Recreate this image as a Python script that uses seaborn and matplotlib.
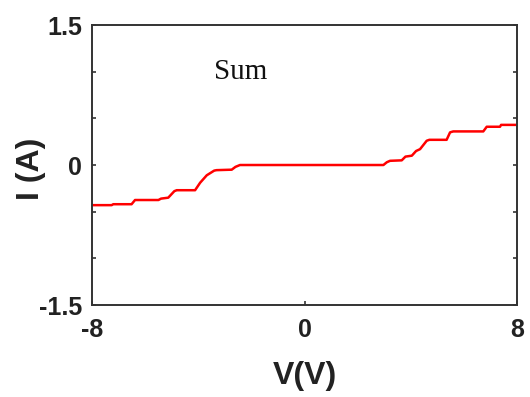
import matplotlib
matplotlib.use("Agg")
import matplotlib.pyplot as plt
import seaborn as sns
import pandas as pd
import numpy as np

V = [-8, -7.26, -7.2, -6.51, -6.38, -5.5, -5.4, -5.13, -4.9, -4.81, -4.12, -3.93, -3.68, -3.4,
     -3.31, -2.74, -2.6, -2.43, 2.97, 3.1, 3.22, 3.66, 3.8, 4.04, 4.2, 4.35, 4.6, 4.7, 5.35,
     5.48, 5.6, 6.73, 6.86, 7.36, 7.4, 8]
I = [-0.43, -0.43, -0.42, -0.42, -0.375, -0.375, -0.36, -0.35, -0.28, -0.27, -0.27, -0.19, -0.11,
     -0.06, -0.055, -0.05, -0.02, 0.0, 0.0, 0.03, 0.045, 0.05, 0.09, 0.1, 0.15, 0.17, 0.26, 0.27,
     0.27, 0.35, 0.36, 0.36, 0.41, 0.41, 0.43, 0.43]
x_ticks = [-8, 0, 8]
x_tick_labels = ["-8", "0", "8"]
y_ticks = [-1.5, 0, 1.5]
y_tick_labels = ["-1.5", "0", "1.5"]

sns.set_style("ticks")
plt.rcParams['font.family'] = ['Liberation Sans', 'DejaVu Sans']

df = pd.DataFrame({"V": V, "I": I})
fig = plt.figure(figsize=(5.3, 3.97), dpi=100)
ax = fig.add_axes([0.1736, 0.2317, 0.9755 - 0.1736, 0.937 - 0.2317])
sns.lineplot(data=df, x="V", y="I", color="#ff0000", linewidth=1.8, ax=ax, sort=False)

ax.set_xlim(-8, 8)
ax.set_ylim(-1.5, 1.5)
ax.set_xticks(x_ticks)
ax.set_xticklabels(x_tick_labels)
ax.set_yticks(y_ticks)
ax.set_yticklabels(y_tick_labels)
ax.set_yticks([-1.0, -0.5, 0.5, 1.0], minor=True)

for s in ax.spines.values():
    s.set_visible(True)
    s.set_color("#333333")
    s.set_linewidth(1.4)

ax.tick_params(axis="both", which="both", direction="in", length=3, width=1.2,
               color="#333333", right=True, top=False)
ax.tick_params(axis="y", which="major", labelsize=18, pad=7, labelcolor="#222222")
ax.tick_params(axis="x", which="major", labelsize=18, pad=9, labelcolor="#222222")
for lab in ax.get_xticklabels() + ax.get_yticklabels():
    lab.set_fontweight("bold")

ax.set_xlabel("V(V)", fontsize=23, fontweight="bold", color="#222222", va="center")
ax.set_ylabel("I (A)", fontsize=23, fontweight="bold", color="#222222", va="center")
ax.xaxis.set_label_coords(0.501, -0.254)
ax.yaxis.set_label_coords(-0.1435, 0.486)

ax.text(-2.39, 1.0, "Sum", fontsize=21, family=["Liberation Serif", "DejaVu Serif"],
        ha="center", va="center", color="#111111")

fig.savefig("out.png", dpi=100)
